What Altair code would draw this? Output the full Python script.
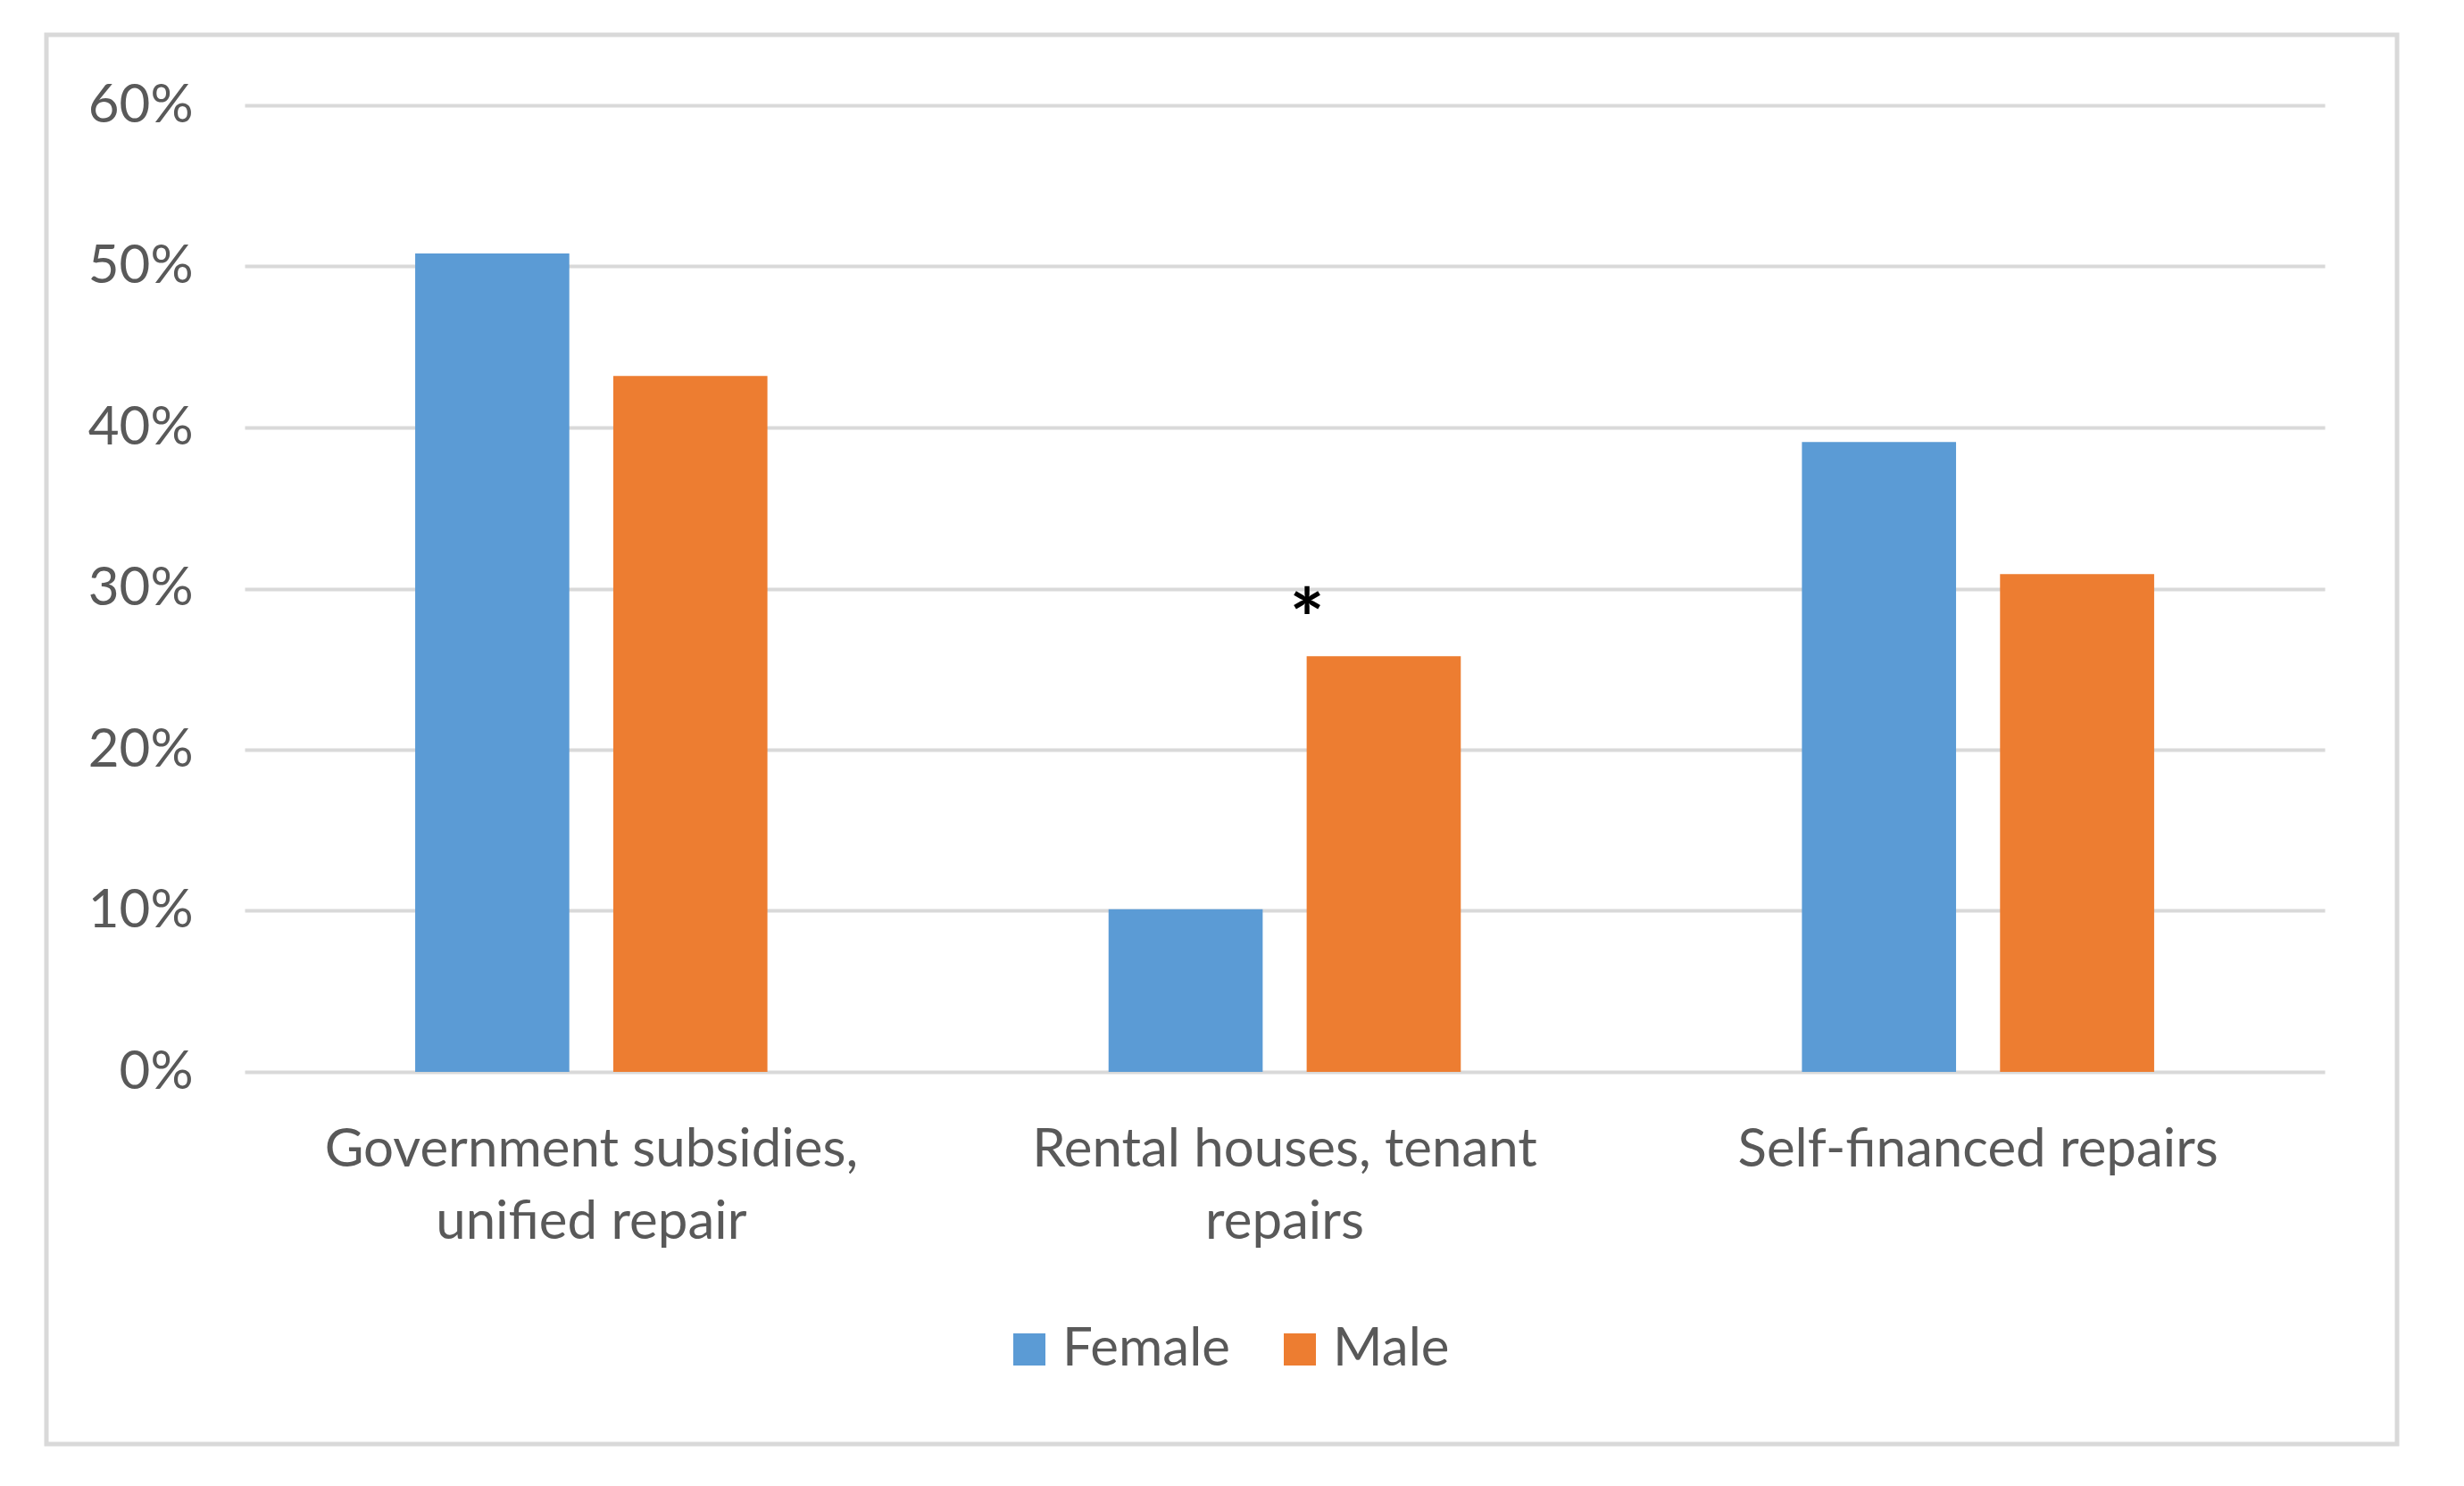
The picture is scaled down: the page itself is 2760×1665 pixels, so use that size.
import altair as alt
import pandas as pd

categories = ["Government subsidies, unified repair", "Rental houses, tenant repairs", "Self-financed repairs"]
label_lines = [["Government subsidies,", "unified repair"], ["Rental houses, tenant", "repairs"], ["Self-financed repairs"]]
series = ["Female", "Male"]
female = [0.508, 0.101, 0.391]
male = [0.432, 0.258, 0.309]
y_ticks = [0, 0.1, 0.2, 0.3, 0.4, 0.5, 0.6]
colors = ["#5B9BD5", "#ED7D31"]

rows = []
for i, c in enumerate(categories):
    rows.append({"category": c, "sex": "Female", "value": female[i]})
    rows.append({"category": c, "sex": "Male", "value": male[i]})
df = pd.DataFrame(rows)

annot = pd.DataFrame([{"category": categories[1], "sex": "Male", "value": male[1], "mark": "*"}])

# label expression for multi-line category labels
parts = []
for c, lines in zip(categories, label_lines):
    arr = "[" + ",".join("'" + l + "'" for l in lines) + "]"
    parts.append(f"datum.value == '{c}' ? {arr}")
label_expr = " : ".join(parts) + " : datum.value"

FONT = "Lato"
TXT = "#595959"

x_enc = alt.X("category:N", sort=categories,
              scale=alt.Scale(paddingInner=0, paddingOuter=0),
              axis=alt.Axis(title=None, labelAngle=0, labelExpr=label_expr,
                            labelFontSize=60, labelColor=TXT, labelFont=FONT,
                            labelPadding=58, labelLineHeight=81, labelBaseline="top",
                            domain=False, ticks=False, grid=False, labelLimit=1000))
xoff_enc = alt.XOffset("sex:N", sort=series,
                       scale=alt.Scale(paddingInner=0.222, paddingOuter=0.861))
y_enc = alt.Y("value:Q", scale=alt.Scale(domain=[0, 0.6], nice=False),
              axis=alt.Axis(title=None, values=y_ticks, format=".0%",
                            labelFontSize=60, labelColor=TXT, labelFont=FONT,
                            labelPadding=58, domain=False, ticks=False,
                            grid=True, gridColor="#D9D9D9", gridWidth=4))

bars = alt.Chart(df).mark_bar().encode(
    x=x_enc,
    xOffset=xoff_enc,
    y=y_enc,
    color=alt.Color("sex:N", sort=series,
                    scale=alt.Scale(domain=series, range=colors),
                    legend=alt.Legend(title=None, orient="none", direction="horizontal",
                                      legendX=849, legendY=1364,
                                      symbolType="square", symbolSize=1296,
                                      symbolStrokeWidth=0, symbolOpacity=1,
                                      labelFontSize=60, labelColor=TXT, labelFont=FONT,
                                      labelOffset=7, columnPadding=47, labelLimit=1000)),
)

star = alt.Chart(annot).mark_text(
    font=FONT, fontSize=92, fontWeight="bold", color="#000000",
    dx=-86, dy=-36, baseline="middle", align="center"
).encode(
    x=alt.X("category:N", sort=categories),
    xOffset=alt.XOffset("sex:N", sort=series),
    y=alt.Y("value:Q"),
    text="mark:N",
)

frame = alt.Chart(alt.Data(values=[{}])).mark_rect(
    filled=False, stroke="#D9D9D9", strokeWidth=5
).encode(
    x=alt.value(-222), x2=alt.value(2411),
    y=alt.value(-79), y2=alt.value(1500),
)

chart = alt.layer(frame, bars, star).properties(
    width=2330, height=1083,
    autosize=alt.AutoSizeParams(type="none"),
    padding={"left": 266, "top": 110, "right": 120, "bottom": 440},
    background="white",
).configure_view(stroke=None)

chart.save("out.html", embed_options={"renderer": "svg", "actions": False})
